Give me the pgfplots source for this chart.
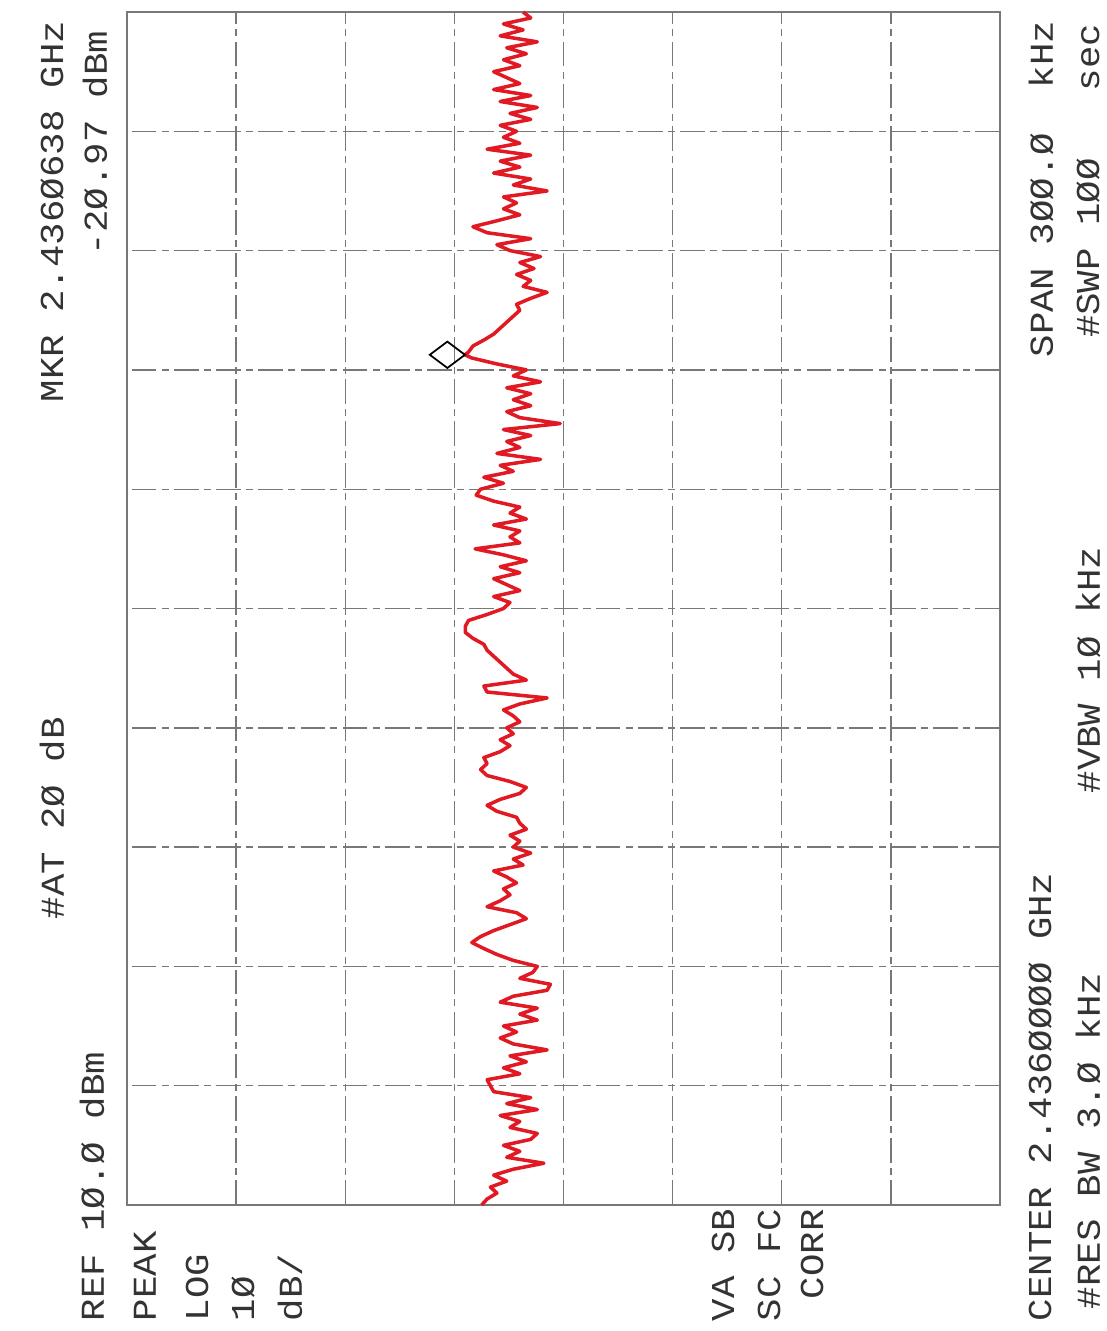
\documentclass[border=0pt]{standalone}
\usepackage{fontspec}
\setmainfont{Liberation Mono}[FakeStretch=1.12]
\usepackage{pgfplots}
\pgfplotsset{compat=1.18}
\definecolor{trace}{RGB}{225,25,35}
\definecolor{gridc}{RGB}{120,120,120}

\begin{document}
\begin{tikzpicture}
% page frame and the printed annotations, in pixel units of the scan
\begin{scope}[x=0.1mm, y=-0.1mm, shift={(-127,-1205)},
  every node/.style={rotate=90, inner sep=0pt, text=black!80,
    font=\fontsize{9.5}{11}\selectfont}]
\path[use as bounding box] (0,0) rectangle (1107,1331);
\node[anchor=east] at (52,20) {MKR 2.436Ø638 GHz};
\node[anchor=east] at (95,30) {-2Ø.97 dBm};
\node[anchor=west] at (52,920) {\#AT 2Ø dB};
\node[anchor=west] at (92,1322) {REF 1Ø.Ø dBm};
\node[anchor=west] at (145,1322) {PEAK};
\node[anchor=west] at (197,1322) {LOG};
\node[anchor=west] at (243,1322) {1Ø};
\node[anchor=west] at (290,1322) {dB/};
\node[anchor=west] at (723,1322) {VA SB};
\node[anchor=west] at (769,1322) {SC FC};
\node[anchor=west] at (812,1300) {CORR};
\node[anchor=west] at (1040,1322) {CENTER 2.436ØØØØ GHz};
\node[anchor=west] at (1088,1310) {\#RES BW 3.Ø kHz};
\node at (1088,670) {\#VBW 1Ø kHz};
\node[anchor=east] at (1041,20) {SPAN 3ØØ.Ø~~kHz};
\node[anchor=east] at (1088,23) {\#SWP 1ØØ~~~sec};
\end{scope}

\begin{axis}[
  at={(0,0)}, anchor=south west,
  scale only axis, width=87.3mm, height=119.3mm,
  xmin=-70, xmax=10, x dir=reverse,
  ymin=-150, ymax=150,
  xtick={-70,-60,...,10}, ytick={-150,-120,...,150},
  xticklabels={}, yticklabels={},
  major tick length=0pt,
  grid=major,
  grid style={gridc, line width=0.4pt, dash pattern=on 7pt off 1.5pt on 2pt off 1.5pt},
  axis line style={gridc, line width=0.5pt},
  clip=false,
]
% trace: x = level (dBm), y = offset from 2.436 GHz (kHz)
\addplot[trace, line width=1pt, line join=round] coordinates {
(-22.5,-150) (-23.0,-148.5) (-23.9,-147) (-23.3,-145.5) (-24.8,-144) (-23.6,-142.5) (-25.4,-141) (-28.2,-139.5) (-24.8,-138) (-26.0,-136.5)
(-24.5,-135) (-27.0,-133.5) (-27.6,-132) (-25.1,-130.5) (-26.0,-129) (-24.2,-127.5) (-27.6,-126) (-24.8,-124.5) (-27.0,-123) (-23.6,-121.5)
(-23.3,-120) (-23.0,-118.5) (-26.0,-117) (-24.5,-115.5) (-26.6,-114) (-25.1,-112.5) (-28.5,-111) (-25.4,-109.5) (-24.2,-108) (-25.7,-106.5)
(-24.5,-105) (-27.6,-103.5) (-26.0,-102) (-27.6,-100.5) (-24.2,-99) (-25.4,-97.5) (-28.5,-96) (-28.8,-94.5) (-26.0,-93) (-27.2,-91.5)
(-27.6,-90) (-25.4,-88.5) (-23.9,-87) (-22.7,-85.5) (-21.6,-84) (-22.4,-82.5) (-23.6,-81) (-25.1,-79.5) (-26.6,-78) (-25.7,-76.5)
(-23.0,-75) (-24.2,-73.5) (-25.1,-72) (-24.5,-70.5) (-25.7,-69) (-24.8,-67.5) (-23.6,-66) (-26.3,-64.5) (-25.4,-63) (-27.0,-61.5)
(-25.4,-60) (-26.0,-58.5) (-25.1,-57) (-26.6,-55.5) (-26.0,-54) (-25.7,-52.5) (-23.9,-51) (-23.0,-49.5) (-24.2,-48) (-26.0,-46.5)
(-26.6,-45) (-25.1,-43.5) (-23.0,-42) (-22.4,-40.5) (-23.0,-39) (-22.7,-37.5) (-24.2,-36) (-25.1,-34.5) (-24.2,-33) (-25.4,-31.5)
(-24.8,-30) (-26.0,-28.5) (-25.4,-27) (-24.5,-25.5) (-26.0,-24) (-28.5,-22.5) (-23.0,-21) (-22.7,-19.5) (-26.6,-18) (-25.4,-16.5)
(-24.8,-15) (-24.2,-13.5) (-23.6,-12) (-23.0,-10.5) (-22.7,-9) (-21.7,-7.5) (-21.0,-6) (-21.0,-4.5) (-21.3,-3) (-23.0,-1.5)
(-24.5,0) (-25.1,1.5) (-23.6,3) (-26.0,4.5) (-24.8,6) (-23.6,7.5) (-26.0,9) (-24.2,10.5) (-26.6,12) (-24.5,13.5)
(-21.9,15) (-26.0,16.5) (-25.1,18) (-26.0,19.5) (-23.6,21) (-26.6,22.5) (-25.1,24) (-26.0,25.5) (-23.6,27) (-22.0,28.5)
(-22.4,30) (-24.5,31.5) (-22.7,33) (-25.4,34.5) (-24.2,36) (-27.9,37.5) (-23.9,39) (-26.0,40.5) (-24.8,42) (-27.0,43.5)
(-24.5,45) (-29.7,46.5) (-26.0,48) (-24.8,49.5) (-27.0,51) (-25.4,52.5) (-27.0,54) (-24.8,55.5) (-27.9,57) (-25.4,58.5)
(-26.6,60) (-23.9,61.5) (-21.6,63) (-20.97,63.8) (-21.3,64.5) (-21.7,66) (-22.7,67.5) (-23.6,69) (-24.2,70.5) (-24.8,72)
(-25.4,73.5) (-26.0,75) (-25.7,76.5) (-27.0,78) (-28.5,79.5) (-26.3,81) (-27.0,82.5) (-25.7,84) (-27.3,85.5) (-26.0,87) (-27.9,88.5)
(-25.1,90) (-23.9,91.5) (-27.0,93) (-23.0,94.5) (-21.7,96) (-23.9,97.5) (-26.0,99) (-24.5,100.5) (-25.7,102) (-24.5,103.5)
(-28.5,105) (-25.4,106.5) (-27.0,108) (-23.6,109.5) (-26.0,111) (-24.2,112.5) (-27.0,114) (-23.0,115.5) (-26.0,117) (-24.5,118.5)
(-25.7,120) (-24.2,121.5) (-27.0,123) (-25.1,124.5) (-27.6,126) (-24.2,127.5) (-27.0,129) (-23.6,130.5) (-26.0,132) (-24.8,133.5)
(-23.6,135) (-26.0,136.5) (-24.5,138) (-26.6,139.5) (-24.8,141) (-27.6,142.5) (-24.2,144) (-26.3,145.5) (-24.5,147) (-27.0,148.5) (-26.3,150)
};
% marker
\addplot[black, only marks, mark=diamond, mark size=5pt,
  mark options={xshift=-5pt, rotate=90, line width=0.5pt}] coordinates {(-20.97,63.8)};
\end{axis}
\end{tikzpicture}
\end{document}
